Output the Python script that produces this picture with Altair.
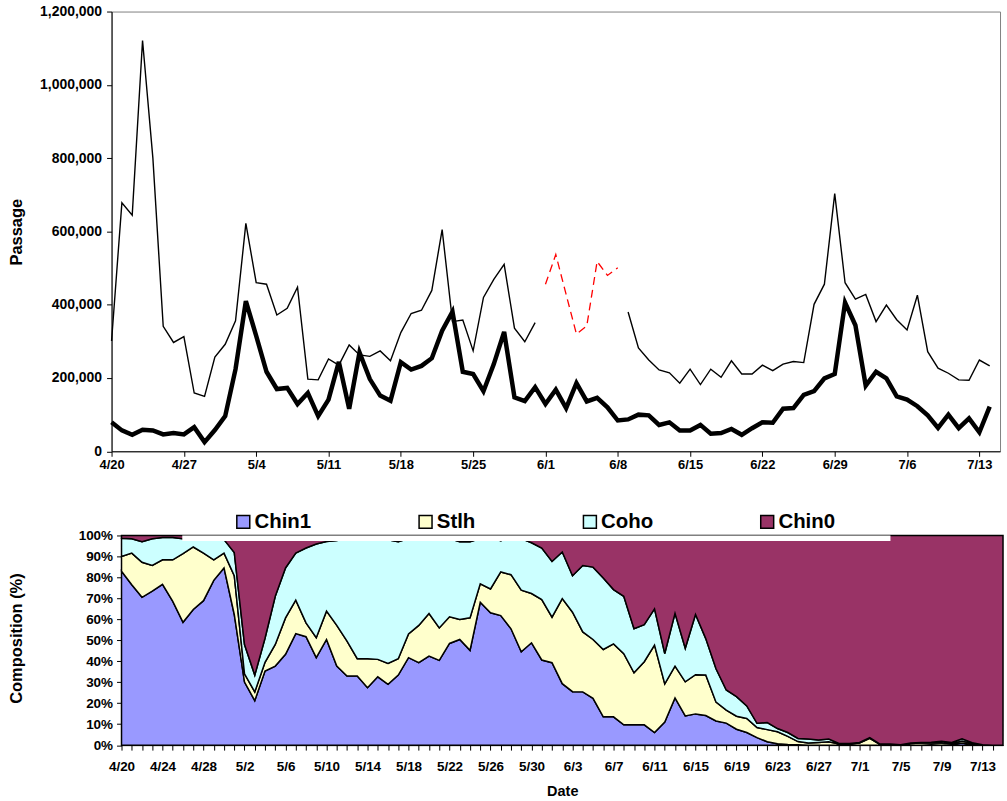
import altair as alt
import pandas as pd

# Day 0 is April 20; every series below is one value per day.
YEAR, MONTH0, DAY0 = 2005, 3, 20  # JS month index (3 = April)

# Daily passage, thin line (None = no estimate that day)
passage_total = [
    301000, 678000, 644000, 1121000, 800000, 341000, 297000, 313000, 159000, 150000,
    257000, 292000, 356000, 622000, 460000, 456000, 372000, 390000, 448000, 197000,
    195000, 252000, 235000, 290000, 263000, 259000, 274000, 247000, 324000, 376000,
    385000, 439000, 605000, 354000, 358000, 274000, 420000, 469000, 510000, 336000,
    299000, 351000, None, None, None, None, None, None, None, None,
    380000, 282000, 249000, 222000, 214000, 186000, 224000, 182000, 224000, 202000,
    247000, 211000, 211000, 235000, 220000, 238000, 245000, 242000, 401000, 456000,
    703000, 460000, 415000, 428000, 354000, 399000, 359000, 331000, 426000, 272000,
    227000, 213000, 195000, 194000, 249000, 233000,
]

# Interim estimate for days 42-49 (red dashed)
passage_interim_days = [42, 43, 44, 45, 46, 47, 48, 49]
passage_interim = [456000, 537000, 428000, 320000, 342000, 518000, 480000, 501000]

# Daily passage, thick line
passage_main = [
    79000, 57000, 45000, 59000, 57000, 46000, 50000, 46000, 66000, 25000,
    58000, 96000, 224000, 410000, 315000, 217000, 170000, 173000, 129000, 159000,
    96000, 141000, 244000, 116000, 270000, 197000, 152000, 138000, 243000, 223000,
    233000, 254000, 329000, 381000, 217000, 211000, 164000, 238000, 326000, 147000,
    137000, 175000, 129000, 168000, 118000, 186000, 136000, 146000, 120000, 84000,
    87000, 100000, 98000, 72000, 79000, 57000, 57000, 72000, 48000, 50000,
    61000, 45000, 63000, 79000, 78000, 116000, 118000, 154000, 164000, 199000,
    211000, 406000, 344000, 179000, 217000, 199000, 150000, 141000, 123000, 98000,
    64000, 100000, 63000, 90000, 52000, 122000,
]

# Daily composition (%) by group
species = ["Chin1", "Stlh", "Coho", "Chin0"]
species_colors = ["#9999FF", "#FFFFCC", "#CCFFFF", "#993366"]

chin1 = [
    82.9, 76.5, 70.5, 73.4, 76.7, 68.6, 58.6, 64.7, 68.9, 78.6,
    84.5, 62.3, 30.1, 21.2, 35.3, 37.7, 43.3, 53.2, 51.7, 41.7,
    50.4, 37.7, 33.0, 33.0, 27.4, 32.6, 29.0, 33.4, 41.7, 39.3,
    42.5, 40.4, 48.5, 50.4, 45.2, 68.1, 63.1, 61.8, 55.5, 44.5,
    48.8, 40.6, 39.3, 29.3, 25.5, 25.4, 22.3, 13.5, 13.5, 9.7,
    9.7, 9.7, 6.0, 11.0, 22.5, 13.9, 14.9, 14.1, 11.5, 10.5,
    7.6, 6.0, 3.6, 1.6, 0.7, 0.3, 0.2, 0.0, 0.0, 0.0,
    0.0, 0.0, 0.0, 0.0, 0.0, 0.0, 0.0, 0.0, 0.0, 0.2,
    0.0, 0.3, 1.0, 0.2, 0.0, 0.0, 0.0,
]
stlh = [
    7.1, 15.1, 16.7, 12.3, 11.7, 19.8, 32.7, 29.8, 22.7, 9.8,
    7.1, 18.5, 3.9, 4.2, 4.2, 10.3, 17.4, 15.9, 6.6, 9.5,
    13.5, 19.4, 16.6, 8.2, 13.8, 8.3, 10.0, 7.8, 11.3, 17.8,
    20.3, 15.5, 12.7, 9.5, 15.5, 8.8, 11.4, 20.8, 25.8, 29.4,
    23.5, 28.8, 21.7, 40.6, 37.9, 28.6, 28.1, 32.1, 34.8, 33.9,
    24.8, 30.1, 41.7, 18.2, 15.2, 16.3, 18.7, 19.3, 9.0, 6.2,
    6.2, 6.7, 4.8, 5.8, 5.7, 3.9, 1.5, 1.0, 1.3, 1.6,
    0.5, 0.5, 1.0, 3.2, 0.3, 0.3, 0.0, 0.8, 1.0, 0.8,
    1.0, 0.5, 1.0, 0.6, 0.0, 0.0, 0.0,
]
coho = [
    8.7, 6.8, 9.8, 12.7, 10.6, 10.6, 7.1, 4.5, 7.4, 10.6,
    6.4, 11.1, 14.0, 8.0, 11.5, 23.0, 23.8, 22.5, 35.7, 44.7,
    33.2, 40.5, 48.9, 57.8, 57.8, 57.6, 59.0, 55.8, 45.5, 41.9,
    36.2, 42.6, 37.3, 37.1, 36.3, 21.6, 24.5, 14.9, 17.7, 24.6,
    24.2, 24.6, 26.6, 22.2, 17.4, 31.7, 34.5, 34.1, 25.9, 27.4,
    21.0, 17.7, 17.3, 14.5, 25.2, 16.0, 28.7, 17.4, 15.9, 9.6,
    9.3, 6.0, 2.0, 3.4, 1.5, 1.8, 1.5, 1.9, 1.2, 1.3,
    0.3, 0.3, 0.3, 0.4, 0.2, 0.2, 0.2, 0.2, 0.3, 0.4,
    0.8, 0.5, 1.0, 0.4, 0.2, 0.0, 0.0,
]
chin0 = [
    1.3, 1.6, 3.0, 1.6, 1.0, 1.0, 1.6, 1.0, 1.0, 1.0,
    2.0, 8.1, 52.0, 66.6, 49.0, 29.0, 15.5, 8.4, 6.0, 4.1,
    2.9, 2.4, 1.5, 1.0, 1.0, 1.5, 2.0, 3.0, 1.5, 1.0,
    1.0, 1.5, 1.5, 3.0, 3.0, 1.5, 1.0, 2.5, 1.0, 1.5,
    3.5, 6.0, 12.4, 7.9, 19.2, 14.3, 15.1, 20.3, 25.8, 29.0,
    44.5, 42.5, 35.0, 56.3, 37.1, 53.8, 37.7, 49.2, 63.6, 73.7,
    76.9, 81.3, 89.6, 89.2, 92.1, 94.0, 96.8, 97.1, 97.5, 97.1,
    99.2, 99.2, 98.7, 96.4, 99.5, 99.5, 99.8, 99.0, 98.7, 98.6,
    98.2, 98.7, 97.0, 98.8, 99.8, 100.0, 100.0,
]

FONT = "Liberation Sans"
N_DAYS = 86
INSET = 10  # lower panel's plot starts this many px right of the upper one


def date_label(cond=None):
    fmt = f"timeFormat(datetime({YEAR}, {MONTH0}, {DAY0} + datum.value), '%-m/%-d')"
    if cond:
        return f"{cond} ? {fmt} : ''"
    return fmt


# ---------- top panel: daily passage ----------
thin_rows = []
seg = 0
for d, v in enumerate(passage_total):
    if v is None:
        seg += 1
        continue
    thin_rows.append({"day": d, "passage": v, "seg": seg})
thin_df = pd.DataFrame(thin_rows)
main_df = pd.DataFrame({"day": range(len(passage_main)), "passage": passage_main})
interim_df = pd.DataFrame({"day": passage_interim_days, "passage": passage_interim})

x_top = alt.X(
    "day:Q",
    scale=alt.Scale(domain=[0, N_DAYS], nice=False, zero=False),
    axis=alt.Axis(
        values=list(range(0, 85, 7)), labelExpr=date_label(), title=None,
        grid=False, tickSize=5, labelPadding=2, labelFont=FONT, labelFontSize=13,
        labelFontWeight="bold", labelColor="black", labelFlush=False, labelOverlap=False,
        domainColor="black", tickColor="black",
    ),
)
y_top = alt.Y(
    "passage:Q",
    scale=alt.Scale(domain=[0, 1200000], nice=False),
    axis=alt.Axis(
        values=list(range(0, 1200001, 200000)), format=",d", title="Passage",
        grid=False, tickSize=5, labelPadding=5, labelFont=FONT, labelFontSize=14,
        labelFontWeight="bold", labelColor="black", domainColor="black", tickColor="black",
        titleFont=FONT, titleFontSize=16.5, titleFontWeight="bold", titleColor="black",
        titleAngle=270, titleBaseline="middle", titleX=-95, titleY=221,
    ),
)

thin = alt.Chart(thin_df).mark_line(color="black", strokeWidth=1.4).encode(
    x=x_top, y=y_top, detail="seg:N"
)
thick = alt.Chart(main_df).mark_line(color="black", strokeWidth=4.5).encode(x="day:Q", y="passage:Q")
interim = alt.Chart(interim_df).mark_line(
    color="#FF0000", strokeWidth=1.3, strokeDash=[8, 5]
).encode(x="day:Q", y="passage:Q")

top = alt.layer(thin, interim, thick).properties(
    width=892, height=441.5, view=alt.ViewBackground(stroke="#808080", strokeWidth=1)
)

# ---------- bottom panel: composition ----------
comp_rows = []
for rank, (name, vals) in enumerate(zip(species, [chin1, stlh, coho, chin0])):
    for d, v in enumerate(vals):
        comp_rows.append({"day": d, "pct": v, "species": name, "rank": rank})
comp_df = pd.DataFrame(comp_rows)

BOTTOM_W = 895

areas = alt.Chart(comp_df).mark_area(
    stroke="black", strokeWidth=1.5, interpolate="linear"
).encode(
    x=alt.X(
        "day:Q",
        scale=alt.Scale(domain=[0, N_DAYS], range=[INSET, BOTTOM_W], nice=False, zero=False),
        axis=alt.Axis(
            values=list(range(0, 86)), labelExpr=date_label("datum.value % 4 == 0"),
            title="Date", grid=False, tickSize=5, labelPadding=9, labelFont=FONT,
            labelFontSize=13.5, labelFontWeight="bold", labelColor="black",
            labelFlush=False, labelOverlap=False, domainColor="black", tickColor="black",
            titleFont=FONT, titleFontSize=14.5, titleFontWeight="bold", titleColor="black",
            titlePadding=12,
        ),
    ),
    y=alt.Y(
        "pct:Q",
        stack="zero",
        scale=alt.Scale(domain=[0, 100], nice=False),
        axis=alt.Axis(
            values=list(range(0, 101, 10)), labelExpr="datum.value + '%'",
            title="Composition (%)", grid=False, tickSize=5, labelPadding=4,
            offset=-INSET,
            labelFont=FONT, labelFontSize=13.5, labelFontWeight="bold", labelColor="black",
            domainColor="black", tickColor="black", titleFont=FONT, titleFontSize=16.5,
            titleFontWeight="bold", titleColor="black", titleAngle=270,
            titleBaseline="middle", titleX=-105, titleY=103,
        ),
    ),
    color=alt.Color(
        "species:N",
        scale=alt.Scale(domain=species, range=species_colors),
        legend=alt.Legend(
            title=None, orient="none", legendX=122, legendY=-24, direction="horizontal",
            columnPadding=104, symbolType="square", symbolSize=169,
            symbolStrokeColor="black", symbolStrokeWidth=1.5, symbolOpacity=1,
            labelFont=FONT, labelFontSize=20.5, labelFontWeight="bold",
            labelColor="black", labelOffset=1, padding=0,
        ),
    ),
    order=alt.Order("rank:Q"),
)

# white band of the legend box over the top edge of the plot
legend_band = alt.Chart(pd.DataFrame({"k": [0]})).mark_rect(color="white").encode(
    x=alt.value(71), x2=alt.value(782), y=alt.value(0), y2=alt.value(5.5)
)

bottom = alt.layer(areas, legend_band).properties(
    width=BOTTOM_W, height=210.5, view=alt.ViewBackground(stroke="transparent")
)

chart = (
    alt.concat(top, bottom, columns=1, spacing=39, align="none", bounds="full")
    .resolve_legend(color="independent")
    .properties(padding={"left": 8, "top": 2, "right": 0, "bottom": 0})
    .configure(font=FONT)
)

chart.save("out.html", embed_options={"renderer": "svg", "actions": False})
